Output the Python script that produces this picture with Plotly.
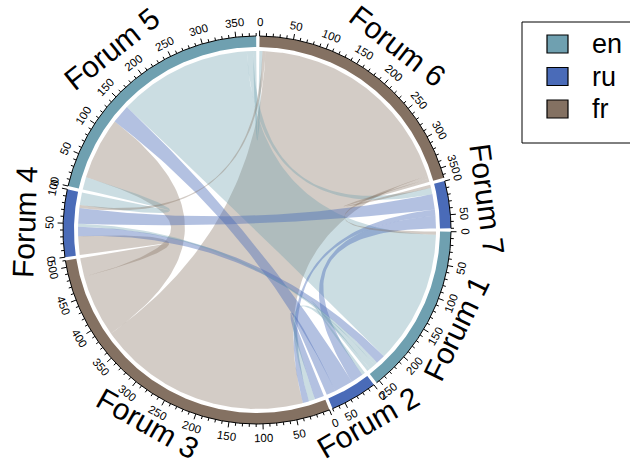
import numpy as np
import plotly.graph_objects as go

# ---------------- data ----------------
sectors = ["Forum 1", "Forum 2", "Forum 3", "Forum 4", "Forum 5", "Forum 6", "Forum 7"]
sector_lang = ["en", "ru", "fr", "ru", "en", "fr", "ru"]
languages = ["en", "ru", "fr"]
lang_colors = {"en": (111, 160, 176), "ru": (74, 107, 184), "fr": (132, 113, 98)}

link_from = ["Forum 5", "Forum 6", "Forum 3", "Forum 3", "Forum 4", "Forum 4", "Forum 7",
             "Forum 7", "Forum 2", "Forum 2", "Forum 1", "Forum 1", "Forum 6", "Forum 6",
             "Forum 5", "Forum 5", "Forum 6", "Forum 1", "Forum 5"]
link_to = ["Forum 1", "Forum 3", "Forum 5", "Forum 4", "Forum 1", "Forum 7", "Forum 2",
           "Forum 3", "Forum 3", "Forum 5", "Forum 3", "Forum 4", "Forum 1", "Forum 7",
           "Forum 4", "Forum 6", "Forum 4", "Forum 2", "Forum 7"]
link_value = [215, 345, 100, 30, 15, 25, 20, 10, 15, 30, 10, 5, 5, 5, 20, 5, 5, 5, 10]

# ---------------- layout constants ----------------
W, H = 630, 468
CX, CY = 257.0, 230.0
R_OUT, R_IN, R_LINK = 194.0, 183.0, 179.0
GAP = 1.0
START = 0.5
TICK_MINOR, TICK_MAJOR = 10, 50
R_TICKLAB = 208.0
R_NAME, NAME_SHIFT = 227.0, 5.0
FONT = "Liberation Sans, Arial"

n = len(sectors)
idx = {s: i for i, s in enumerate(sectors)}
totals = np.zeros(n)
for a, b, v in zip(link_from, link_to, link_value):
    totals[idx[a]] += v
    totals[idx[b]] += v
dpu = (360.0 - n * GAP) / totals.sum()

sec_start = np.zeros(n)
pos = START
for i in range(n):
    sec_start[i] = pos
    pos += totals[i] * dpu + GAP
sec_end = sec_start + totals * dpu


def pt(theta, r):
    t = np.radians(theta)
    return CX + r * np.cos(t), CY + r * np.sin(t)


def arc(t0, t1, r, step=0.5):
    m = max(2, int(abs(t1 - t0) / step) + 2)
    th = np.linspace(t0, t1, m)
    return list(CX + r * np.cos(np.radians(th))), list(CY + r * np.sin(np.radians(th)))


def rgba(c, a):
    return "rgba(%d,%d,%d,%.3f)" % (c[0], c[1], c[2], a)


def lower(th):
    return 0 < (th % 360) < 180


def facing(th):
    return th + 90 - (180 if lower(th) else 0)


# order links inside each sector (partners by decreasing clockwise offset)
link_pos = {}
for i in range(n):
    items = []
    for k, (a, b, v) in enumerate(zip(link_from, link_to, link_value)):
        if idx[a] == i:
            items.append(((idx[b] - i) % n, k, v))
        elif idx[b] == i:
            items.append(((idx[a] - i) % n, k, v))
    items.sort(key=lambda z: -z[0])
    cur = sec_start[i]
    for off, k, v in items:
        link_pos[(k, i)] = (cur, cur + v * dpu)
        cur += v * dpu

fig = go.Figure()

# ribbons
order = np.argsort(-np.array(link_value))
tt = np.linspace(0, 1, 60)
c = np.array([CX, CY])
for k in order:
    a, b = idx[link_from[k]], idx[link_to[k]]
    a1, a2 = link_pos[(k, a)]
    b1, b2 = link_pos[(k, b)]
    xs, ys = arc(a1, a2, R_LINK)
    p0 = np.array(pt(a2, R_LINK)); p2 = np.array(pt(b1, R_LINK))
    bz = ((1 - tt) ** 2)[:, None] * p0 + (2 * (1 - tt) * tt)[:, None] * c + (tt ** 2)[:, None] * p2
    xs += list(bz[:, 0]); ys += list(bz[:, 1])
    x2, y2 = arc(b1, b2, R_LINK)
    xs += x2; ys += y2
    p0 = np.array(pt(b2, R_LINK)); p2 = np.array(pt(a1, R_LINK))
    bz = ((1 - tt) ** 2)[:, None] * p0 + (2 * (1 - tt) * tt)[:, None] * c + (tt ** 2)[:, None] * p2
    xs += list(bz[:, 0]); ys += list(bz[:, 1])
    lang = sector_lang[a]
    alpha = 0.42 if lang == "ru" else 0.36
    fig.add_trace(go.Scatter(x=xs, y=ys, mode="lines", fill="toself",
                             fillcolor=rgba(lang_colors[lang], alpha),
                             line=dict(width=0, color="rgba(0,0,0,0)"),
                             hoverinfo="skip"))

# ring sectors
for i in range(n):
    xo, yo = arc(sec_start[i], sec_end[i], R_OUT)
    xi, yi = arc(sec_end[i], sec_start[i], R_IN)
    fig.add_trace(go.Scatter(x=xo + xi, y=yo + yi, mode="lines", fill="toself",
                             fillcolor=rgba(lang_colors[sector_lang[i]], 1),
                             line=dict(width=0, color="rgba(0,0,0,0)"), hoverinfo="skip"))

# axis lines and ticks
tx, ty = [], []
annotations = []
for i in range(n):
    xa, ya = arc(sec_start[i], sec_end[i], R_OUT)
    tx += xa + [None]; ty += ya + [None]
    for val in range(0, int(totals[i]) + 1, TICK_MINOR):
        th = sec_start[i] + val * dpu
        major = val % TICK_MAJOR == 0
        L = 5.5 if major else 3.0
        x0, y0 = pt(th, R_OUT)
        x1, y1 = pt(th, R_OUT + L)
        tx += [x0, x1, None]; ty += [y0, y1, None]
        if major:
            lx, ly = pt(th, R_TICKLAB)
            annotations.append(dict(x=lx, y=ly, xref="x", yref="y", text=str(val),
                                    showarrow=False, textangle=facing(th),
                                    font=dict(family=FONT, size=11.5, color="black"),
                                    xanchor="center", yanchor="middle"))
fig.add_trace(go.Scatter(x=tx, y=ty, mode="lines", line=dict(color="black", width=1),
                         hoverinfo="skip"))

# sector names
for i in range(n):
    th = (sec_start[i] + sec_end[i]) / 2
    r = R_NAME - NAME_SHIFT if lower(th) else R_NAME + NAME_SHIFT
    lx, ly = pt(th, r)
    annotations.append(dict(x=lx, y=ly, xref="x", yref="y", text=sectors[i],
                            showarrow=False, textangle=facing(th),
                            font=dict(family=FONT, size=30, color="black"),
                            xanchor="center", yanchor="middle"))

# legend
shapes = [dict(type="rect", xref="x", yref="y", x0=522, x1=645, y0=22, y1=143,
               line=dict(color="black", width=1), fillcolor="rgba(0,0,0,0)")]
for j, lang in enumerate(languages):
    yc = 44 + j * 32.5
    shapes.append(dict(type="rect", xref="x", yref="y", x0=547, x1=568, y0=yc - 9, y1=yc + 9,
                       line=dict(color="black", width=1.2),
                       fillcolor=rgba(lang_colors[lang], 1)))
    annotations.append(dict(x=590, y=yc, xref="x", yref="y", text=lang, showarrow=False,
                            xanchor="left", yanchor="middle",
                            font=dict(family=FONT, size=27, color="black")))

fig.update_layout(width=W, height=H, margin=dict(l=0, r=0, t=0, b=0),
                  plot_bgcolor="white", paper_bgcolor="white", showlegend=False,
                  xaxis=dict(range=[0, W], visible=False, fixedrange=True),
                  yaxis=dict(range=[H, 0], visible=False, fixedrange=True),
                  annotations=annotations, shapes=shapes)
fig.write_html("out.html")
